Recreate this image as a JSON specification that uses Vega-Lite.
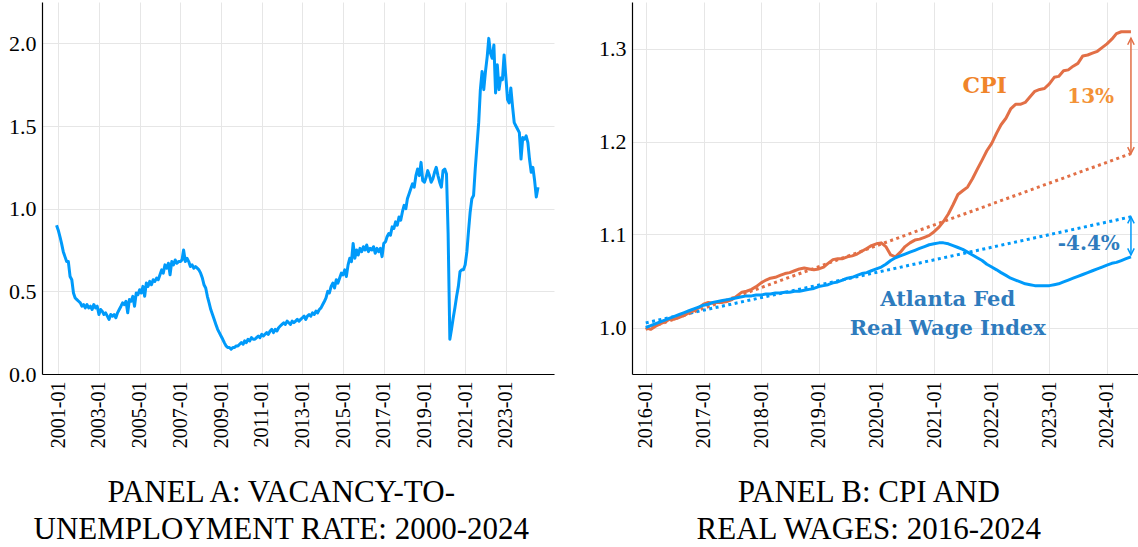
{
  "$schema": "https://vega.github.io/schema/vega-lite/v6.json",
  "padding": {"left": 8, "top": 2, "right": 0, "bottom": 0},
  "spacing": 44,
  "background": "white",
  "config": {
    "font": "Liberation Serif",
    "view": {"stroke": null},
    "axis": {"labelFont": "Liberation Serif", "labelColor": "#000", "domainColor": "#000", "domainWidth": 1.2, "gridColor": "#e6e6e6", "gridWidth": 1, "ticks": false, "labelPadding": 6, "title": null, "labelFlush": false, "labelOverlap": false},
    "axisX": {"labelFont": "Liberation Serif", "labelFontSize": 20, "labelAngle": -90, "labelPadding": 7},
    "axisY": {"labelFont": "Liberation Serif", "labelFontSize": 22},
    "style": {"guide-label": {"font": "Liberation Serif"}}
  },
  "datasets": {
    "vu": [
      {"d":"2000-12-01","v":0.90},
      {"d":"2001-01-01","v":0.87},{"d":"2001-02-01","v":0.83},{"d":"2001-03-01","v":0.79},{"d":"2001-04-01","v":0.74},{"d":"2001-05-01","v":0.71},{"d":"2001-06-01","v":0.68},{"d":"2001-07-01","v":0.68},{"d":"2001-08-01","v":0.59},{"d":"2001-09-01","v":0.57},{"d":"2001-10-01","v":0.49},{"d":"2001-11-01","v":0.46},{"d":"2001-12-01","v":0.45},
      {"d":"2002-01-01","v":0.44},{"d":"2002-02-01","v":0.43},{"d":"2002-03-01","v":0.41},{"d":"2002-04-01","v":0.42},{"d":"2002-05-01","v":0.40},{"d":"2002-06-01","v":0.42},{"d":"2002-07-01","v":0.40},{"d":"2002-08-01","v":0.41},{"d":"2002-09-01","v":0.39},{"d":"2002-10-01","v":0.42},{"d":"2002-11-01","v":0.40},{"d":"2002-12-01","v":0.41},
      {"d":"2003-01-01","v":0.36},{"d":"2003-02-01","v":0.39},{"d":"2003-03-01","v":0.38},{"d":"2003-04-01","v":0.36},{"d":"2003-05-01","v":0.37},{"d":"2003-06-01","v":0.35},{"d":"2003-07-01","v":0.33},{"d":"2003-08-01","v":0.36},{"d":"2003-09-01","v":0.35},{"d":"2003-10-01","v":0.36},{"d":"2003-11-01","v":0.34},{"d":"2003-12-01","v":0.37},
      {"d":"2004-01-01","v":0.39},{"d":"2004-02-01","v":0.41},{"d":"2004-03-01","v":0.43},{"d":"2004-04-01","v":0.42},{"d":"2004-05-01","v":0.44},{"d":"2004-06-01","v":0.37},{"d":"2004-07-01","v":0.45},{"d":"2004-08-01","v":0.44},{"d":"2004-09-01","v":0.47},{"d":"2004-10-01","v":0.41},{"d":"2004-11-01","v":0.49},{"d":"2004-12-01","v":0.48},
      {"d":"2005-01-01","v":0.51},{"d":"2005-02-01","v":0.49},{"d":"2005-03-01","v":0.53},{"d":"2005-04-01","v":0.47},{"d":"2005-05-01","v":0.55},{"d":"2005-06-01","v":0.53},{"d":"2005-07-01","v":0.56},{"d":"2005-08-01","v":0.54},{"d":"2005-09-01","v":0.57},{"d":"2005-10-01","v":0.56},{"d":"2005-11-01","v":0.58},{"d":"2005-12-01","v":0.57},
      {"d":"2006-01-01","v":0.60},{"d":"2006-02-01","v":0.63},{"d":"2006-03-01","v":0.61},{"d":"2006-04-01","v":0.66},{"d":"2006-05-01","v":0.64},{"d":"2006-06-01","v":0.67},{"d":"2006-07-01","v":0.60},{"d":"2006-08-01","v":0.68},{"d":"2006-09-01","v":0.66},{"d":"2006-10-01","v":0.69},{"d":"2006-11-01","v":0.67},{"d":"2006-12-01","v":0.68},
      {"d":"2007-01-01","v":0.68},{"d":"2007-02-01","v":0.69},{"d":"2007-03-01","v":0.75},{"d":"2007-04-01","v":0.68},{"d":"2007-05-01","v":0.70},{"d":"2007-06-01","v":0.68},{"d":"2007-07-01","v":0.65},{"d":"2007-08-01","v":0.66},{"d":"2007-09-01","v":0.64},{"d":"2007-10-01","v":0.65},{"d":"2007-11-01","v":0.64},{"d":"2007-12-01","v":0.63},
      {"d":"2008-01-01","v":0.61},{"d":"2008-02-01","v":0.58},{"d":"2008-03-01","v":0.54},{"d":"2008-04-01","v":0.52},{"d":"2008-05-01","v":0.47},{"d":"2008-06-01","v":0.43},{"d":"2008-07-01","v":0.39},{"d":"2008-08-01","v":0.36},{"d":"2008-09-01","v":0.33},{"d":"2008-10-01","v":0.30},{"d":"2008-11-01","v":0.27},{"d":"2008-12-01","v":0.25},
      {"d":"2009-01-01","v":0.23},{"d":"2009-02-01","v":0.21},{"d":"2009-03-01","v":0.19},{"d":"2009-04-01","v":0.17},{"d":"2009-05-01","v":0.16},{"d":"2009-06-01","v":0.16},{"d":"2009-07-01","v":0.15},{"d":"2009-08-01","v":0.16},{"d":"2009-09-01","v":0.16},{"d":"2009-10-01","v":0.17},{"d":"2009-11-01","v":0.17},{"d":"2009-12-01","v":0.18},
      {"d":"2010-01-01","v":0.19},{"d":"2010-02-01","v":0.18},{"d":"2010-03-01","v":0.20},{"d":"2010-04-01","v":0.19},{"d":"2010-05-01","v":0.21},{"d":"2010-06-01","v":0.20},{"d":"2010-07-01","v":0.22},{"d":"2010-08-01","v":0.21},{"d":"2010-09-01","v":0.21},{"d":"2010-10-01","v":0.22},{"d":"2010-11-01","v":0.23},{"d":"2010-12-01","v":0.22},
      {"d":"2011-01-01","v":0.24},{"d":"2011-02-01","v":0.23},{"d":"2011-03-01","v":0.24},{"d":"2011-04-01","v":0.25},{"d":"2011-05-01","v":0.24},{"d":"2011-06-01","v":0.26},{"d":"2011-07-01","v":0.27},{"d":"2011-08-01","v":0.25},{"d":"2011-09-01","v":0.27},{"d":"2011-10-01","v":0.26},{"d":"2011-11-01","v":0.28},{"d":"2011-12-01","v":0.29},
      {"d":"2012-01-01","v":0.30},{"d":"2012-02-01","v":0.31},{"d":"2012-03-01","v":0.30},{"d":"2012-04-01","v":0.32},{"d":"2012-05-01","v":0.31},{"d":"2012-06-01","v":0.30},{"d":"2012-07-01","v":0.32},{"d":"2012-08-01","v":0.31},{"d":"2012-09-01","v":0.32},{"d":"2012-10-01","v":0.33},{"d":"2012-11-01","v":0.32},{"d":"2012-12-01","v":0.33},
      {"d":"2013-01-01","v":0.34},{"d":"2013-02-01","v":0.35},{"d":"2013-03-01","v":0.33},{"d":"2013-04-01","v":0.35},{"d":"2013-05-01","v":0.36},{"d":"2013-06-01","v":0.35},{"d":"2013-07-01","v":0.37},{"d":"2013-08-01","v":0.36},{"d":"2013-09-01","v":0.38},{"d":"2013-10-01","v":0.37},{"d":"2013-11-01","v":0.39},{"d":"2013-12-01","v":0.40},
      {"d":"2014-01-01","v":0.42},{"d":"2014-02-01","v":0.44},{"d":"2014-03-01","v":0.46},{"d":"2014-04-01","v":0.50},{"d":"2014-05-01","v":0.49},{"d":"2014-06-01","v":0.53},{"d":"2014-07-01","v":0.55},{"d":"2014-08-01","v":0.52},{"d":"2014-09-01","v":0.57},{"d":"2014-10-01","v":0.55},{"d":"2014-11-01","v":0.58},{"d":"2014-12-01","v":0.61},
      {"d":"2015-01-01","v":0.60},{"d":"2015-02-01","v":0.63},{"d":"2015-03-01","v":0.59},{"d":"2015-04-01","v":0.66},{"d":"2015-05-01","v":0.70},{"d":"2015-06-01","v":0.68},{"d":"2015-07-01","v":0.79},{"d":"2015-08-01","v":0.70},{"d":"2015-09-01","v":0.75},{"d":"2015-10-01","v":0.72},{"d":"2015-11-01","v":0.76},{"d":"2015-12-01","v":0.74},
      {"d":"2016-01-01","v":0.77},{"d":"2016-02-01","v":0.75},{"d":"2016-03-01","v":0.78},{"d":"2016-04-01","v":0.74},{"d":"2016-05-01","v":0.76},{"d":"2016-06-01","v":0.75},{"d":"2016-07-01","v":0.77},{"d":"2016-08-01","v":0.73},{"d":"2016-09-01","v":0.76},{"d":"2016-10-01","v":0.74},{"d":"2016-11-01","v":0.76},{"d":"2016-12-01","v":0.71},
      {"d":"2017-01-01","v":0.79},{"d":"2017-02-01","v":0.80},{"d":"2017-03-01","v":0.83},{"d":"2017-04-01","v":0.85},{"d":"2017-05-01","v":0.84},{"d":"2017-06-01","v":0.89},{"d":"2017-07-01","v":0.88},{"d":"2017-08-01","v":0.92},{"d":"2017-09-01","v":0.90},{"d":"2017-10-01","v":0.95},{"d":"2017-11-01","v":0.93},{"d":"2017-12-01","v":0.98},
      {"d":"2018-01-01","v":1.02},{"d":"2018-02-01","v":1.00},{"d":"2018-03-01","v":1.06},{"d":"2018-04-01","v":1.09},{"d":"2018-05-01","v":1.12},{"d":"2018-06-01","v":1.15},{"d":"2018-07-01","v":1.13},{"d":"2018-08-01","v":1.20},{"d":"2018-09-01","v":1.24},{"d":"2018-10-01","v":1.20},{"d":"2018-11-01","v":1.28},{"d":"2018-12-01","v":1.17},
      {"d":"2019-01-01","v":1.16},{"d":"2019-02-01","v":1.19},{"d":"2019-03-01","v":1.23},{"d":"2019-04-01","v":1.20},{"d":"2019-05-01","v":1.16},{"d":"2019-06-01","v":1.18},{"d":"2019-07-01","v":1.22},{"d":"2019-08-01","v":1.25},{"d":"2019-09-01","v":1.20},{"d":"2019-10-01","v":1.16},{"d":"2019-11-01","v":1.13},{"d":"2019-12-01","v":1.23},
      {"d":"2020-01-01","v":1.24},{"d":"2020-02-01","v":1.21},{"d":"2020-03-01","v":0.85},{"d":"2020-04-01","v":0.21},{"d":"2020-05-01","v":0.27},{"d":"2020-06-01","v":0.34},{"d":"2020-07-01","v":0.40},{"d":"2020-08-01","v":0.47},{"d":"2020-09-01","v":0.53},{"d":"2020-10-01","v":0.62},{"d":"2020-11-01","v":0.63},{"d":"2020-12-01","v":0.63},
      {"d":"2021-01-01","v":0.66},{"d":"2021-02-01","v":0.74},{"d":"2021-03-01","v":0.86},{"d":"2021-04-01","v":0.98},{"d":"2021-05-01","v":1.06},{"d":"2021-06-01","v":1.08},{"d":"2021-07-01","v":1.24},{"d":"2021-08-01","v":1.38},{"d":"2021-09-01","v":1.52},{"d":"2021-10-01","v":1.72},{"d":"2021-11-01","v":1.83},{"d":"2021-12-01","v":1.72},
      {"d":"2022-01-01","v":1.83},{"d":"2022-02-01","v":1.92},{"d":"2022-03-01","v":2.03},{"d":"2022-04-01","v":1.94},{"d":"2022-05-01","v":1.91},{"d":"2022-06-01","v":1.99},{"d":"2022-07-01","v":1.70},{"d":"2022-08-01","v":1.87},{"d":"2022-09-01","v":1.72},{"d":"2022-10-01","v":1.79},{"d":"2022-11-01","v":1.78},{"d":"2022-12-01","v":1.93},
      {"d":"2023-01-01","v":1.80},{"d":"2023-02-01","v":1.66},{"d":"2023-03-01","v":1.64},{"d":"2023-04-01","v":1.73},{"d":"2023-05-01","v":1.62},{"d":"2023-06-01","v":1.52},{"d":"2023-07-01","v":1.50},{"d":"2023-08-01","v":1.48},{"d":"2023-09-01","v":1.46},{"d":"2023-10-01","v":1.30},{"d":"2023-11-01","v":1.43},{"d":"2023-12-01","v":1.42},
      {"d":"2024-01-01","v":1.44},{"d":"2024-02-01","v":1.40},{"d":"2024-03-01","v":1.30},{"d":"2024-04-01","v":1.22},{"d":"2024-05-01","v":1.25},{"d":"2024-06-01","v":1.17},{"d":"2024-07-01","v":1.07},{"d":"2024-08-01","v":1.13}
    ],
    "b": [
      {"d":"2016-01-01","s":"CPI","v":1.000},{"d":"2016-02-01","s":"CPI","v":0.998},{"d":"2016-03-01","s":"CPI","v":1.001},{"d":"2016-04-01","s":"CPI","v":1.004},{"d":"2016-05-01","s":"CPI","v":1.006},{"d":"2016-06-01","s":"CPI","v":1.009},{"d":"2016-07-01","s":"CPI","v":1.009},{"d":"2016-08-01","s":"CPI","v":1.011},{"d":"2016-09-01","s":"CPI","v":1.013},{"d":"2016-10-01","s":"CPI","v":1.016},{"d":"2016-11-01","s":"CPI","v":1.018},{"d":"2016-12-01","s":"CPI","v":1.021},
      {"d":"2017-01-01","s":"CPI","v":1.025},{"d":"2017-02-01","s":"CPI","v":1.027},{"d":"2017-03-01","s":"CPI","v":1.026},{"d":"2017-04-01","s":"CPI","v":1.027},{"d":"2017-05-01","s":"CPI","v":1.027},{"d":"2017-06-01","s":"CPI","v":1.028},{"d":"2017-07-01","s":"CPI","v":1.030},{"d":"2017-08-01","s":"CPI","v":1.034},{"d":"2017-09-01","s":"CPI","v":1.038},{"d":"2017-10-01","s":"CPI","v":1.039},{"d":"2017-11-01","s":"CPI","v":1.041},{"d":"2017-12-01","s":"CPI","v":1.044},
      {"d":"2018-01-01","s":"CPI","v":1.048},{"d":"2018-02-01","s":"CPI","v":1.051},{"d":"2018-03-01","s":"CPI","v":1.053},{"d":"2018-04-01","s":"CPI","v":1.054},{"d":"2018-05-01","s":"CPI","v":1.056},{"d":"2018-06-01","s":"CPI","v":1.058},{"d":"2018-07-01","s":"CPI","v":1.059},{"d":"2018-08-01","s":"CPI","v":1.061},{"d":"2018-09-01","s":"CPI","v":1.063},{"d":"2018-10-01","s":"CPI","v":1.064},{"d":"2018-11-01","s":"CPI","v":1.063},{"d":"2018-12-01","s":"CPI","v":1.062},
      {"d":"2019-01-01","s":"CPI","v":1.063},{"d":"2019-02-01","s":"CPI","v":1.065},{"d":"2019-03-01","s":"CPI","v":1.069},{"d":"2019-04-01","s":"CPI","v":1.073},{"d":"2019-05-01","s":"CPI","v":1.074},{"d":"2019-06-01","s":"CPI","v":1.074},{"d":"2019-07-01","s":"CPI","v":1.076},{"d":"2019-08-01","s":"CPI","v":1.077},{"d":"2019-09-01","s":"CPI","v":1.079},{"d":"2019-10-01","s":"CPI","v":1.082},{"d":"2019-11-01","s":"CPI","v":1.085},{"d":"2019-12-01","s":"CPI","v":1.088},
      {"d":"2020-01-01","s":"CPI","v":1.090},{"d":"2020-02-01","s":"CPI","v":1.091},{"d":"2020-03-01","s":"CPI","v":1.087},{"d":"2020-04-01","s":"CPI","v":1.078},{"d":"2020-05-01","s":"CPI","v":1.076},{"d":"2020-06-01","s":"CPI","v":1.081},{"d":"2020-07-01","s":"CPI","v":1.087},{"d":"2020-08-01","s":"CPI","v":1.091},{"d":"2020-09-01","s":"CPI","v":1.094},{"d":"2020-10-01","s":"CPI","v":1.095},{"d":"2020-11-01","s":"CPI","v":1.097},{"d":"2020-12-01","s":"CPI","v":1.099},
      {"d":"2021-01-01","s":"CPI","v":1.103},{"d":"2021-02-01","s":"CPI","v":1.108},{"d":"2021-03-01","s":"CPI","v":1.114},{"d":"2021-04-01","s":"CPI","v":1.122},{"d":"2021-05-01","s":"CPI","v":1.132},{"d":"2021-06-01","s":"CPI","v":1.143},{"d":"2021-07-01","s":"CPI","v":1.147},{"d":"2021-08-01","s":"CPI","v":1.151},{"d":"2021-09-01","s":"CPI","v":1.160},{"d":"2021-10-01","s":"CPI","v":1.170},{"d":"2021-11-01","s":"CPI","v":1.180},{"d":"2021-12-01","s":"CPI","v":1.190},
      {"d":"2022-01-01","s":"CPI","v":1.198},{"d":"2022-02-01","s":"CPI","v":1.209},{"d":"2022-03-01","s":"CPI","v":1.218},{"d":"2022-04-01","s":"CPI","v":1.225},{"d":"2022-05-01","s":"CPI","v":1.235},{"d":"2022-06-01","s":"CPI","v":1.240},{"d":"2022-07-01","s":"CPI","v":1.240},{"d":"2022-08-01","s":"CPI","v":1.242},{"d":"2022-09-01","s":"CPI","v":1.248},{"d":"2022-10-01","s":"CPI","v":1.254},{"d":"2022-11-01","s":"CPI","v":1.256},{"d":"2022-12-01","s":"CPI","v":1.257},
      {"d":"2023-01-01","s":"CPI","v":1.262},{"d":"2023-02-01","s":"CPI","v":1.269},{"d":"2023-03-01","s":"CPI","v":1.270},{"d":"2023-04-01","s":"CPI","v":1.276},{"d":"2023-05-01","s":"CPI","v":1.277},{"d":"2023-06-01","s":"CPI","v":1.281},{"d":"2023-07-01","s":"CPI","v":1.284},{"d":"2023-08-01","s":"CPI","v":1.292},{"d":"2023-09-01","s":"CPI","v":1.293},{"d":"2023-10-01","s":"CPI","v":1.295},{"d":"2023-11-01","s":"CPI","v":1.297},{"d":"2023-12-01","s":"CPI","v":1.301},
      {"d":"2024-01-01","s":"CPI","v":1.305},{"d":"2024-02-01","s":"CPI","v":1.310},{"d":"2024-03-01","s":"CPI","v":1.316},{"d":"2024-04-01","s":"CPI","v":1.318},{"d":"2024-05-01","s":"CPI","v":1.318},{"d":"2024-06-01","s":"CPI","v":1.318},
      {"d":"2016-01-01","s":"Wage","v":1.000},{"d":"2016-02-01","s":"Wage","v":1.002},{"d":"2016-03-01","s":"Wage","v":1.004},{"d":"2016-04-01","s":"Wage","v":1.006},{"d":"2016-05-01","s":"Wage","v":1.008},{"d":"2016-06-01","s":"Wage","v":1.010},{"d":"2016-07-01","s":"Wage","v":1.012},{"d":"2016-08-01","s":"Wage","v":1.014},{"d":"2016-09-01","s":"Wage","v":1.016},{"d":"2016-10-01","s":"Wage","v":1.018},{"d":"2016-11-01","s":"Wage","v":1.020},{"d":"2016-12-01","s":"Wage","v":1.022},
      {"d":"2017-01-01","s":"Wage","v":1.024},{"d":"2017-02-01","s":"Wage","v":1.025},{"d":"2017-03-01","s":"Wage","v":1.027},{"d":"2017-04-01","s":"Wage","v":1.028},{"d":"2017-05-01","s":"Wage","v":1.029},{"d":"2017-06-01","s":"Wage","v":1.030},{"d":"2017-07-01","s":"Wage","v":1.031},{"d":"2017-08-01","s":"Wage","v":1.032},{"d":"2017-09-01","s":"Wage","v":1.033},{"d":"2017-10-01","s":"Wage","v":1.034},{"d":"2017-11-01","s":"Wage","v":1.034},{"d":"2017-12-01","s":"Wage","v":1.035},
      {"d":"2018-01-01","s":"Wage","v":1.035},{"d":"2018-02-01","s":"Wage","v":1.036},{"d":"2018-03-01","s":"Wage","v":1.036},{"d":"2018-04-01","s":"Wage","v":1.037},{"d":"2018-05-01","s":"Wage","v":1.037},{"d":"2018-06-01","s":"Wage","v":1.038},{"d":"2018-07-01","s":"Wage","v":1.038},{"d":"2018-08-01","s":"Wage","v":1.039},{"d":"2018-09-01","s":"Wage","v":1.039},{"d":"2018-10-01","s":"Wage","v":1.040},{"d":"2018-11-01","s":"Wage","v":1.041},{"d":"2018-12-01","s":"Wage","v":1.042},
      {"d":"2019-01-01","s":"Wage","v":1.044},{"d":"2019-02-01","s":"Wage","v":1.045},{"d":"2019-03-01","s":"Wage","v":1.046},{"d":"2019-04-01","s":"Wage","v":1.048},{"d":"2019-05-01","s":"Wage","v":1.049},{"d":"2019-06-01","s":"Wage","v":1.051},{"d":"2019-07-01","s":"Wage","v":1.053},{"d":"2019-08-01","s":"Wage","v":1.054},{"d":"2019-09-01","s":"Wage","v":1.056},{"d":"2019-10-01","s":"Wage","v":1.058},{"d":"2019-11-01","s":"Wage","v":1.059},{"d":"2019-12-01","s":"Wage","v":1.061},
      {"d":"2020-01-01","s":"Wage","v":1.063},{"d":"2020-02-01","s":"Wage","v":1.065},{"d":"2020-03-01","s":"Wage","v":1.068},{"d":"2020-04-01","s":"Wage","v":1.072},{"d":"2020-05-01","s":"Wage","v":1.075},{"d":"2020-06-01","s":"Wage","v":1.077},{"d":"2020-07-01","s":"Wage","v":1.079},{"d":"2020-08-01","s":"Wage","v":1.081},{"d":"2020-09-01","s":"Wage","v":1.083},{"d":"2020-10-01","s":"Wage","v":1.085},{"d":"2020-11-01","s":"Wage","v":1.087},{"d":"2020-12-01","s":"Wage","v":1.089},
      {"d":"2021-01-01","s":"Wage","v":1.090},{"d":"2021-02-01","s":"Wage","v":1.091},{"d":"2021-03-01","s":"Wage","v":1.091},{"d":"2021-04-01","s":"Wage","v":1.090},{"d":"2021-05-01","s":"Wage","v":1.088},{"d":"2021-06-01","s":"Wage","v":1.086},{"d":"2021-07-01","s":"Wage","v":1.084},{"d":"2021-08-01","s":"Wage","v":1.081},{"d":"2021-09-01","s":"Wage","v":1.078},{"d":"2021-10-01","s":"Wage","v":1.075},{"d":"2021-11-01","s":"Wage","v":1.072},{"d":"2021-12-01","s":"Wage","v":1.068},
      {"d":"2022-01-01","s":"Wage","v":1.065},{"d":"2022-02-01","s":"Wage","v":1.062},{"d":"2022-03-01","s":"Wage","v":1.059},{"d":"2022-04-01","s":"Wage","v":1.056},{"d":"2022-05-01","s":"Wage","v":1.053},{"d":"2022-06-01","s":"Wage","v":1.051},{"d":"2022-07-01","s":"Wage","v":1.049},{"d":"2022-08-01","s":"Wage","v":1.047},{"d":"2022-09-01","s":"Wage","v":1.046},{"d":"2022-10-01","s":"Wage","v":1.045},{"d":"2022-11-01","s":"Wage","v":1.045},{"d":"2022-12-01","s":"Wage","v":1.045},
      {"d":"2023-01-01","s":"Wage","v":1.045},{"d":"2023-02-01","s":"Wage","v":1.046},{"d":"2023-03-01","s":"Wage","v":1.047},{"d":"2023-04-01","s":"Wage","v":1.049},{"d":"2023-05-01","s":"Wage","v":1.051},{"d":"2023-06-01","s":"Wage","v":1.053},{"d":"2023-07-01","s":"Wage","v":1.055},{"d":"2023-08-01","s":"Wage","v":1.057},{"d":"2023-09-01","s":"Wage","v":1.059},{"d":"2023-10-01","s":"Wage","v":1.061},{"d":"2023-11-01","s":"Wage","v":1.063},{"d":"2023-12-01","s":"Wage","v":1.065},
      {"d":"2024-01-01","s":"Wage","v":1.067},{"d":"2024-02-01","s":"Wage","v":1.069},{"d":"2024-03-01","s":"Wage","v":1.070},{"d":"2024-04-01","s":"Wage","v":1.072},{"d":"2024-05-01","s":"Wage","v":1.074},{"d":"2024-06-01","s":"Wage","v":1.076}
    ],
    "trend": [
      {"d":"2016-01-01","s":"CPI","v":0.998},{"d":"2024-06-01","s":"CPI","v":1.187},
      {"d":"2016-01-01","s":"Wage","v":1.005},{"d":"2024-06-01","s":"Wage","v":1.119}
    ],
    "arrows": [
      {"d":"2024-06-01","s":"CPI","v":1.311,"v2":1.187},
      {"d":"2024-06-01","s":"Wage","v":1.119,"v2":1.078}
    ],
    "heads": [
      {"d":"2024-06-01","s":"CPI","v":1.311,"dir":"up"},
      {"d":"2024-06-01","s":"CPI","v":1.187,"dir":"down"},
      {"d":"2024-06-01","s":"Wage","v":1.119,"dir":"up"},
      {"d":"2024-06-01","s":"Wage","v":1.078,"dir":"down"}
    ],
    "labels": [
      {"d":"2021-11-17","v":1.2595,"t":"CPI","g":"cpi"},
      {"d":"2023-09-20","v":1.248,"t":"13%","g":"pct"},
      {"d":"2023-09-08","v":1.0893,"t":"-4.4%","g":"wpct"},
      {"d":"2021-03-28","v":1.0294,"t":"Atlanta Fed","g":"wage"},
      {"d":"2021-03-28","v":0.9989,"t":"Real Wage Index","g":"wage"}
    ]
  },
  "hconcat": [
    {
      "width": 512,
      "height": 372,
      "data": {"name": "vu"},
      "mark": {"type": "line", "color": "#009AFA", "strokeWidth": 3, "strokeJoin": "round"},
      "encoding": {
        "x": {"field": "d", "type": "temporal",
              "scale": {"type": "utc", "nice": false, "domain": [{"year": 2000, "month": 3, "date": 15, "utc": true}, {"year": 2025, "month": 5, "date": 15, "utc": true}]},
              "axis": {"format": "%Y-%m", "labelFont": "Liberation Serif", "values": [
                {"year": 2001, "month": 1, "date": 1, "utc": true}, {"year": 2003, "month": 1, "date": 1, "utc": true},
                {"year": 2005, "month": 1, "date": 1, "utc": true}, {"year": 2007, "month": 1, "date": 1, "utc": true},
                {"year": 2009, "month": 1, "date": 1, "utc": true}, {"year": 2011, "month": 1, "date": 1, "utc": true},
                {"year": 2013, "month": 1, "date": 1, "utc": true}, {"year": 2015, "month": 1, "date": 1, "utc": true},
                {"year": 2017, "month": 1, "date": 1, "utc": true}, {"year": 2019, "month": 1, "date": 1, "utc": true},
                {"year": 2021, "month": 1, "date": 1, "utc": true}, {"year": 2023, "month": 1, "date": 1, "utc": true}]}},
        "y": {"field": "v", "type": "quantitative",
              "scale": {"domain": [0, 2.25], "nice": false, "zero": false},
              "axis": {"values": [0, 0.5, 1, 1.5, 2], "format": ".1f", "labelFont": "Liberation Serif"}}
      },
      "title": {"text": ["PANEL A: VACANCY-TO-", "UNEMPLOYMENT RATE: 2000-2024"], "orient": "bottom", "anchor": "middle", "frame": "bounds", "font": "Liberation Serif", "fontSize": 31, "fontWeight": "normal", "lineHeight": 37, "offset": 30, "color": "#000"}
    },
    {
      "width": 507,
      "height": 372,
      "title": {"text": ["PANEL B: CPI AND", "REAL WAGES: 2016-2024"], "orient": "bottom", "anchor": "middle", "frame": "bounds", "font": "Liberation Serif", "fontSize": 31, "fontWeight": "normal", "lineHeight": 37, "offset": 30, "color": "#000"},
      "layer": [
        {
          "data": {"name": "trend"},
          "mark": {"type": "line", "strokeWidth": 3, "strokeDash": [3, 3.5]},
          "encoding": {
            "x": {"field": "d", "type": "temporal",
                  "scale": {"type": "utc", "nice": false, "domain": [{"year": 2015, "month": 10, "date": 6, "utc": true}, {"year": 2024, "month": 7, "date": 22, "utc": true}]},
                  "axis": {"format": "%Y-%m", "labelFont": "Liberation Serif", "values": [
                    {"year": 2016, "month": 1, "date": 1, "utc": true}, {"year": 2017, "month": 1, "date": 1, "utc": true},
                    {"year": 2018, "month": 1, "date": 1, "utc": true}, {"year": 2019, "month": 1, "date": 1, "utc": true},
                    {"year": 2020, "month": 1, "date": 1, "utc": true}, {"year": 2021, "month": 1, "date": 1, "utc": true},
                    {"year": 2022, "month": 1, "date": 1, "utc": true}, {"year": 2023, "month": 1, "date": 1, "utc": true},
                    {"year": 2024, "month": 1, "date": 1, "utc": true}]}},
            "y": {"field": "v", "type": "quantitative",
                  "scale": {"domain": [0.95, 1.35], "nice": false, "zero": false},
                  "axis": {"values": [1.0, 1.1, 1.2, 1.3], "format": ".1f", "labelFont": "Liberation Serif"}},
            "color": {"field": "s", "type": "nominal", "scale": {"domain": ["CPI", "Wage"], "range": ["#E26F46", "#009AFA"]}, "legend": null}
          }
        },
        {
          "data": {"name": "b"},
          "mark": {"type": "line", "strokeWidth": 3, "strokeJoin": "round"},
          "encoding": {
            "x": {"field": "d", "type": "temporal"},
            "y": {"field": "v", "type": "quantitative"},
            "color": {"field": "s", "type": "nominal", "legend": null}
          }
        },
        {
          "data": {"name": "arrows"},
          "mark": {"type": "rule", "strokeWidth": 1.5},
          "encoding": {
            "x": {"field": "d", "type": "temporal"},
            "y": {"field": "v", "type": "quantitative"},
            "y2": {"field": "v2"},
            "color": {"field": "s", "type": "nominal", "legend": null}
          }
        },
        {
          "data": {"name": "heads"},
          "mark": {"type": "point", "filled": false, "strokeWidth": 1.5, "size": 170, "opacity": 1},
          "encoding": {
            "x": {"field": "d", "type": "temporal"},
            "y": {"field": "v", "type": "quantitative"},
            "shape": {"field": "dir", "type": "nominal", "scale": {"domain": ["up", "down"], "range": ["M-0.5,1L0,0L0.5,1", "M-0.5,-1L0,0L0.5,-1"]}, "legend": null},
            "color": {"field": "s", "type": "nominal", "legend": null}
          }
        },
        {
          "data": {"name": "labels"},
          "transform": [{"filter": "datum.g === 'cpi'"}],
          "mark": {"type": "text", "font": "DejaVu Serif", "fontWeight": "bold", "fontSize": 22, "color": "#F0842A", "align": "center", "baseline": "middle"},
          "encoding": {
            "x": {"field": "d", "type": "temporal"},
            "y": {"field": "v", "type": "quantitative"},
            "text": {"field": "t"}
          }
        },
        {
          "data": {"name": "labels"},
          "transform": [{"filter": "datum.g === 'pct'"}],
          "mark": {"type": "text", "font": "DejaVu Serif", "fontWeight": "bold", "fontSize": 20, "color": "#F39237", "align": "center", "baseline": "middle"},
          "encoding": {
            "x": {"field": "d", "type": "temporal"},
            "y": {"field": "v", "type": "quantitative"},
            "text": {"field": "t"}
          }
        },
        {
          "data": {"name": "labels"},
          "transform": [{"filter": "datum.g === 'wpct'"}],
          "mark": {"type": "text", "font": "DejaVu Serif", "fontWeight": "bold", "fontSize": 20, "color": "#2E7BBD", "align": "center", "baseline": "middle"},
          "encoding": {
            "x": {"field": "d", "type": "temporal"},
            "y": {"field": "v", "type": "quantitative"},
            "text": {"field": "t"}
          }
        },
        {
          "data": {"name": "labels"},
          "transform": [{"filter": "datum.g === 'wage'"}],
          "mark": {"type": "text", "font": "DejaVu Serif", "fontWeight": "bold", "fontSize": 21, "color": "#2E7BBD", "align": "center", "baseline": "middle"},
          "encoding": {
            "x": {"field": "d", "type": "temporal"},
            "y": {"field": "v", "type": "quantitative"},
            "text": {"field": "t"}
          }
        }
      ]
    }
  ]
}
